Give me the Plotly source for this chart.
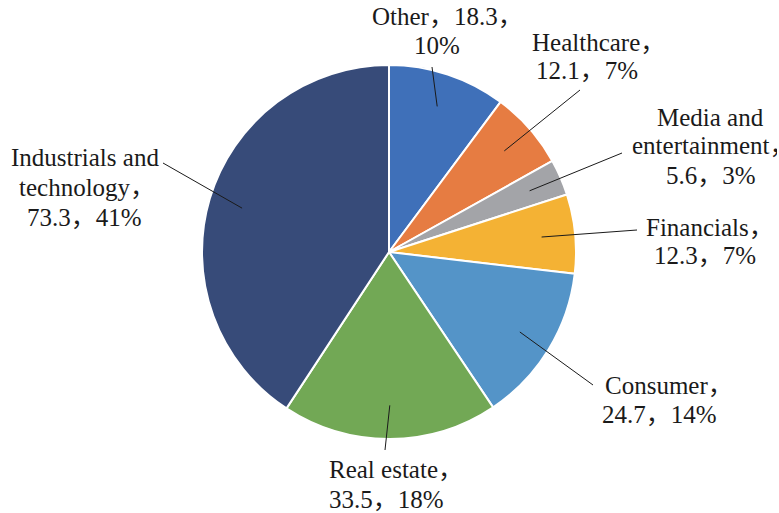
import math
import plotly.graph_objects as go

# dati del grafico
settori = ['Other', 'Healthcare', 'Media and entertainment', 'Financials',
           'Consumer', 'Real estate', 'Industrials and technology']
valori = [18.3, 12.1, 5.6, 12.3, 24.7, 33.5, 73.3]
percentuali = ['10%', '7%', '3%', '7%', '14%', '18%', '41%']
etichette = [['Other，18.3，', '10%'],
             ['Healthcare，', '12.1，7%'],
             ['Media and', 'entertainment，', '5.6，3%'],
             ['Financials，', '12.3，7%'],
             ['Consumer，', '24.7，14%'],
             ['Real estate，', '33.5，18%'],
             ['Industrials and', 'technology，', '73.3，41%']]
colori = ['#3F70B9', '#E67C42', '#A3A4A8', '#F4B234', '#5494C8', '#72A855', '#374B79']

W, H = 779, 513
cx, cy, r = 389, 252, 187
FS = 25

# bordo sinistro e linea di base di ogni riga (px)
pos_righe = [[(373, 24), (415, 53)],
             [(533, 50), (537, 78)],
             [(658, 125), (633, 153), (667, 183)],
             [(647, 235), (655, 263)],
             [(606, 393), (603, 422)],
             [(330, 477), (330, 507)],
             [(12, 165), (20, 195), (28, 225)]]
# punto finale delle linee guida (px)
fine_linea = [(432, 67), (580, 90), (622, 153), (637, 230), (593, 385), (385, 450), (163, 163)]


def px2paper(x, y):
    return x / W, 1 - y / H


fig = go.Figure(go.Pie(
    labels=settori,
    values=valori,
    sort=False,
    direction='clockwise',
    rotation=0,
    textinfo='none',
    hoverinfo='label+value+percent',
    marker=dict(colors=colori, line=dict(color='white', width=2)),
    domain=dict(x=[(cx - r) / W, (cx + r) / W], y=[1 - (cy + r) / H, 1 - (cy - r) / H]),
))

totale = sum(valori)
cumulato = 0
shapes = []
annotations = []
for i, v in enumerate(valori):
    medio = (cumulato + v / 2) / totale * 2 * math.pi
    cumulato += v
    xi = cx + 0.82 * r * math.sin(medio)
    yi = cy - 0.82 * r * math.cos(medio)
    x0, y0 = px2paper(xi, yi)
    x1, y1 = px2paper(*fine_linea[i])
    shapes.append(dict(type='line', xref='paper', yref='paper', x0=x0, y0=y0, x1=x1, y1=y1,
                       line=dict(color='#1a1a1a', width=1)))
    for riga, (lx, base) in zip(etichette[i], pos_righe[i]):
        tx, ty = px2paper(lx - 3, base - 0.3 * FS)
        ann = dict(text=riga, x=tx, y=ty, xref='paper', yref='paper',
                   xanchor='left', yanchor='middle', align='left', showarrow=False)
        # la virgola a tutta larghezza sborda a destra: si limita il riquadro
        if lx - 3 + FS * 6.5 > W:
            ann['width'] = W - (lx - 3) - 4
        annotations.append(ann)

fig.update_layout(
    width=W,
    height=H,
    margin=dict(l=0, r=0, t=0, b=0),
    paper_bgcolor='white',
    showlegend=False,
    font=dict(family='Times New Roman, Noto Sans CJK SC', size=FS, color='#1a1a1a'),
    shapes=shapes,
    annotations=annotations,
)

fig.write_html("out.html", config={'displayModeBar': False},
               post_script="document.body.style.margin='0';")
